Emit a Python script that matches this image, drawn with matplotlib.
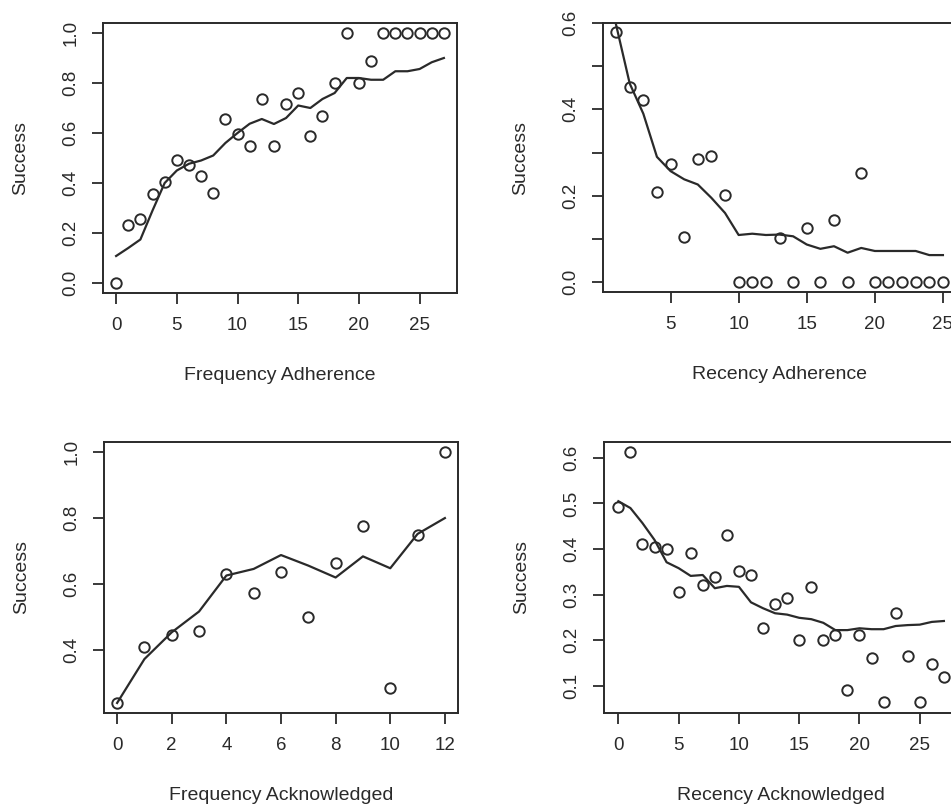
import matplotlib
matplotlib.use("Agg")
import matplotlib.pyplot as plt
import numpy as np

plt.rcParams['font.family'] = ['Liberation Sans', 'DejaVu Sans']

INK = "#2a2a2a"

# Frequency Adherence (top left)
fa_x = list(range(0, 28))
fa_pts = [0.0, 0.23, 0.257, 0.357, 0.403, 0.49, 0.473, 0.427, 0.36, 0.654,
          0.597, 0.546, 0.736, 0.549, 0.714, 0.76, 0.586, 0.667, 0.80, 1.0,
          0.80, 0.889, 1.0, 1.0, 1.0, 1.0, 1.0, 1.0]
fa_fit = [0.108, 0.14, 0.174, 0.29, 0.40, 0.45, 0.477, 0.49, 0.51, 0.56,
          0.60, 0.637, 0.656, 0.636, 0.66, 0.71, 0.70, 0.736, 0.76, 0.82,
          0.82, 0.813, 0.813, 0.847, 0.847, 0.856, 0.883, 0.90]

# Recency Adherence (top right)
ra_x = list(range(1, 26))
ra_pts = [0.579, 0.451, 0.421, 0.209, 0.274, 0.104, 0.286, 0.293, 0.201, 0.0,
          0.0, 0.0, 0.101, 0.0, 0.126, 0.0, 0.144, 0.0, 0.252, 0.0,
          0.0, 0.0, 0.0, 0.0, 0.0]
ra_fit = [0.596, 0.46, 0.39, 0.29, 0.257, 0.238, 0.226, 0.195, 0.16, 0.109,
          0.112, 0.109, 0.11, 0.106, 0.087, 0.077, 0.083, 0.068, 0.079, 0.072,
          0.072, 0.072, 0.072, 0.0625, 0.0625]

# Frequency Acknowledged (bottom left)
fk_x = list(range(0, 13))
fk_pts = [0.241, 0.411, 0.445, 0.458, 0.630, 0.574, 0.638, 0.499, 0.665,
          0.776, 0.286, 0.749, 1.0]
fk_fit = [0.24, 0.373, 0.454, 0.517, 0.626, 0.646, 0.688, 0.656, 0.62,
          0.684, 0.648, 0.752, 0.80]

# Recency Acknowledged (bottom right)
rk_x = list(range(0, 28))
rk_pts = [0.492, 0.613, 0.411, 0.405, 0.401, 0.305, 0.392, 0.320, 0.339,
          0.431, 0.352, 0.342, 0.227, 0.279, 0.292, 0.2, 0.316, 0.2, 0.212,
          0.090, 0.212, 0.161, 0.064, 0.259, 0.166, 0.065, 0.148, 0.120]
rk_fit = [0.505, 0.49, 0.457, 0.42, 0.371, 0.358, 0.341, 0.343, 0.314,
          0.319, 0.317, 0.283, 0.27, 0.259, 0.256, 0.249, 0.246, 0.238,
          0.222, 0.222, 0.226, 0.224, 0.224, 0.231, 0.233, 0.234, 0.24, 0.242]

W, H = 951, 805
fig = plt.figure(figsize=(W / 100, H / 100), dpi=100)


def px_rect(l, r, t, b):
    return [l / W, 1 - b / H, (r - l) / W, (b - t) / H]


def panel(rect, x, pts, fit, xlim, ylim, xticks, yticks, ylabels, xlabel):
    ax = fig.add_axes(px_rect(*rect))
    ax.plot(x, fit, color=INK, lw=1.6)
    ax.plot(x, pts, 'o', mfc='none', mec=INK, ms=7.5, mew=1.4)
    ax.set_xlim(*xlim)
    ax.set_ylim(*ylim)
    ax.set_xticks(xticks)
    ax.set_yticks(yticks)
    ax.set_yticklabels(ylabels, rotation=90, va='center')
    for s in ax.spines.values():
        s.set_linewidth(1.4)
        s.set_color(INK)
    ax.tick_params(length=8, width=1.3, color=INK, labelsize=13.5,
                   labelcolor=INK)
    ax.tick_params(axis='x', pad=9)
    ax.tick_params(axis='y', pad=9)
    ax.set_xlabel(xlabel, fontsize=14, color=INK)
    ax.set_ylabel("Success", fontsize=14, color=INK)
    w_px = rect[1] - rect[0]
    h_px = rect[3] - rect[2]
    ax.xaxis.set_label_coords(0.5 * 354 / w_px, -82 / h_px)
    ax.xaxis.label.set_va('center')
    ax.yaxis.set_label_coords(-82 / w_px, 0.5)
    ax.yaxis.label.set_va('center')
    return ax


def lab(vals, keep=None):
    return [("%.1f" % v) if (keep is None or i in keep) else ""
            for i, v in enumerate(vals)]


y1 = [0.0, 0.2, 0.4, 0.6, 0.8, 1.0]
panel((103, 457, 23, 293), fa_x, fa_pts, fa_fit, (-1.08, 28.08), (-0.04, 1.04),
      [0, 5, 10, 15, 20, 25], y1, lab(y1), "Frequency Adherence")

y2 = [0.0, 0.1, 0.2, 0.3, 0.4, 0.5, 0.6]
panel((603, 956, 23, 292), ra_x, ra_pts, ra_fit, (0.04, 25.96), (-0.023, 0.6),
      [5, 10, 15, 20, 25], y2, lab(y2, keep=[0, 2, 4, 6]), "Recency Adherence")

y3 = [0.4, 0.6, 0.8, 1.0]
panel((104, 458, 442, 713), fk_x, fk_pts, fk_fit, (-0.48, 12.48), (0.2096, 1.0304),
      [0, 2, 4, 6, 8, 10, 12], y3, lab(y3), "Frequency Acknowledged")

y4 = [0.1, 0.2, 0.3, 0.4, 0.5, 0.6]
panel((604, 968, 442, 713), rk_x, rk_pts, rk_fit, (-1.19, 29.0), (0.04, 0.635),
      [0, 5, 10, 15, 20, 25], y4, lab(y4), "Recency Acknowledged")

fig.savefig("out.png", dpi=100)
